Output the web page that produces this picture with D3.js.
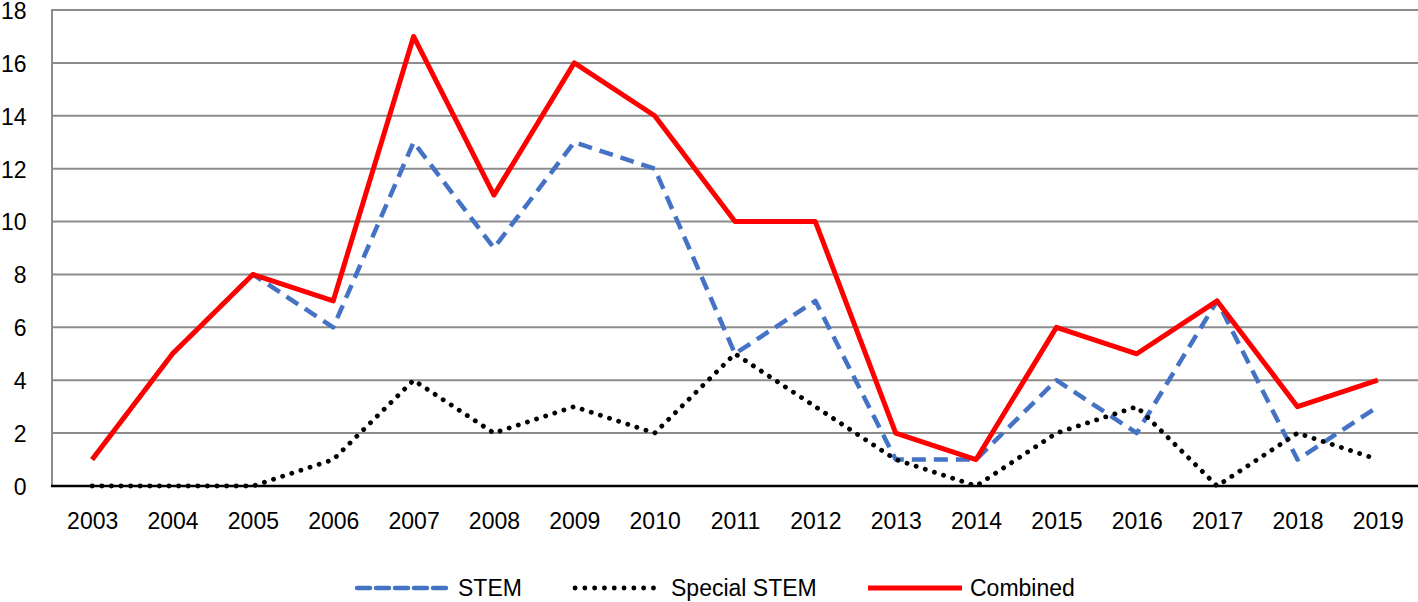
<!DOCTYPE html>
<html><head><meta charset="utf-8">
<script src="https://cdn.jsdelivr.net/npm/d3@7"></script>
<style>body{margin:0;background:#fff}svg{display:block}text{font-family:"Liberation Sans",Arial,sans-serif}</style>
</head><body>
<svg id="c" width="1418" height="602"></svg>
<script>
const years = ["2003","2004","2005","2006","2007","2008","2009","2010","2011","2012","2013","2014","2015","2016","2017","2018","2019"];
const stem = [1,5,8,6,13,9,13,12,5,7,1,1,4,2,7,1,3];
const specialStem = [0,0,0,1,4,2,3,2,5,3,1,0,2,3,0,2,1];
const combined = [1,5,8,7,17,11,16,14,10,10,2,1,6,5,7,3,4];
const yTicks = [0,2,4,6,8,10,12,14,16,18];

const FONT = "Liberation Sans, Arial, sans-serif";
const svg = d3.select("#c");
const L=52, R=1418, T=10, B=486;
const x = d3.scalePoint().domain(years).range([L,R]).padding(0.5);
const y = d3.scaleLinear().domain([0,18]).range([B,T]);

// gridlines
svg.append("g").selectAll("line").data(yTicks.filter(d=>d>0)).join("line")
  .attr("x1",L).attr("x2",R).attr("y1",d=>y(d)).attr("y2",d=>y(d))
  .attr("stroke","#8c8c8c").attr("stroke-width",2);
svg.append("line").attr("x1",L).attr("x2",L).attr("y1",T-1).attr("y2",B)
  .attr("stroke","#8c8c8c").attr("stroke-width",2);

// y labels
const yAxis = d3.axisLeft(y).tickValues(yTicks).tickSize(0).tickPadding(0);
const gy = svg.append("g").attr("transform",`translate(26.5,1)`).call(yAxis);
gy.select(".domain").remove();
gy.selectAll("text").attr("font-size",23).attr("fill","#000").attr("font-family",FONT);

// x labels
const xAxis = d3.axisBottom(x).tickSize(0).tickPadding(0);
const gx = svg.append("g").attr("transform",`translate(0,${B+27})`).call(xAxis);
gx.select(".domain").remove();
gx.selectAll("text").attr("font-size",23).attr("fill","#000").attr("font-family",FONT);

// x axis line
svg.append("line").attr("x1",L-1).attr("x2",R).attr("y1",B).attr("y2",B)
  .attr("stroke","#000").attr("stroke-width",2.5);

const line = d3.line().x((d,i)=>x(years[i])).y(d=>y(d));
const series = [
  {name:"STEM", vals:stem, color:"#4472c4", w:4.5, dash:"14,8", cap:"butt"},
  {name:"Special STEM", vals:specialStem, color:"#000", w:4.8, dash:"0.1,9.5", cap:"round"},
  {name:"Combined", vals:combined, color:"#ff0000", w:5, dash:null, cap:"butt"}
];
series.forEach(s=>{
  svg.append("path").datum(s.vals).attr("d",line).attr("fill","none")
    .attr("stroke",s.color).attr("stroke-width",s.w).attr("stroke-dasharray",s.dash)
    .attr("stroke-linecap",s.cap).attr("stroke-linejoin","round");
});

// legend
const legX = [357, 575, 868];
const legW = [93, 88, 94];
const legendDash = ["13,6", "0.1,9.7", null];
const lg = svg.append("g");
series.forEach((s,i)=>{
  lg.append("line").attr("x1",legX[i]).attr("x2",legX[i]+legW[i]).attr("y1",588).attr("y2",588)
    .attr("stroke",s.color).attr("stroke-width",s.w).attr("stroke-dasharray",legendDash[i])
    .attr("stroke-linecap",i===0?"round":s.cap);
  lg.append("text").attr("x",legX[i]+legW[i]+8).attr("y",588).attr("dy","0.35em")
    .attr("font-size",23).attr("font-family",FONT).text(s.name);
});
</script>
</body></html>
